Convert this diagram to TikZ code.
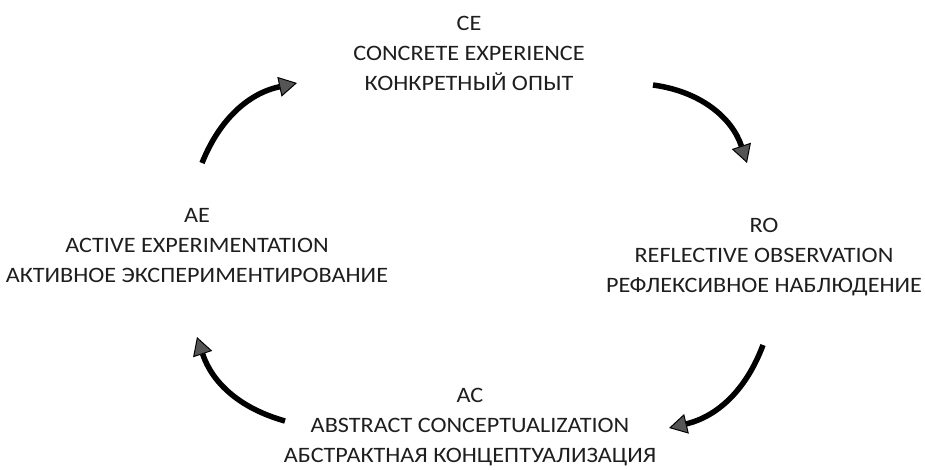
\documentclass[tikz,border=0pt]{standalone}
\usepackage{fontspec}
\setmainfont{Carlito}[FakeStretch=1.1]
\definecolor{textgray}{RGB}{30,30,30}
\definecolor{tipgray}{RGB}{85,85,85}
\usetikzlibrary{arrows.meta, positioning}
\tikzset{
  stage/.style={align=center, text=textgray, inner sep=0pt,
    font=\fontsize{22}{30}\selectfont},
  cycle/.style={line width=5.5pt, black,
    -{Triangle[length=18pt, width=20pt, line width=1pt, fill=tipgray]}},
}

\begin{document}
\begin{tikzpicture}[x=1pt, y=1pt]
\useasboundingbox (0,0) rectangle (925,-470);

% the four stages
\node[stage] (CE) at (469,-53)  {CE\\CONCRETE EXPERIENCE\\КОНКРЕТНЫЙ ОПЫТ};
\node[stage] (RO) at (764,-257) {RO\\REFLECTIVE OBSERVATION\\РЕФЛЕКСИВНОЕ НАБЛЮДЕНИЕ};
\node[stage] (AC) at (470,-427) {AC\\ABSTRACT CONCEPTUALIZATION\\АБСТРАКТНАЯ КОНЦЕПТУАЛИЗАЦИЯ};
\node[stage] (AE) at (197,-246) {AE\\ACTIVE EXPERIMENTATION\\АКТИВНОЕ ЭКСПЕРИМЕНТИРОВАНИЕ};

% arrow ends
\coordinate (ceIn)  at (297,-83);
\coordinate (ceOut) at (653,-85);
\coordinate (roIn)  at (747,-163);
\coordinate (roOut) at (763,-345);
\coordinate (acIn)  at (669,-428);
\coordinate (acOut) at (285,-421);
\coordinate (aeIn)  at (197,-337);
\coordinate (aeOut) at (202,-163);

\draw[cycle] (aeOut) to[bend left=28] (ceIn);
\draw[cycle] (ceOut) to[bend left=32] (roIn);
\draw[cycle] (roOut) to[bend left=28] (acIn);
\draw[cycle] (acOut) to[bend left=28] (aeIn);

\end{tikzpicture}
\end{document}
